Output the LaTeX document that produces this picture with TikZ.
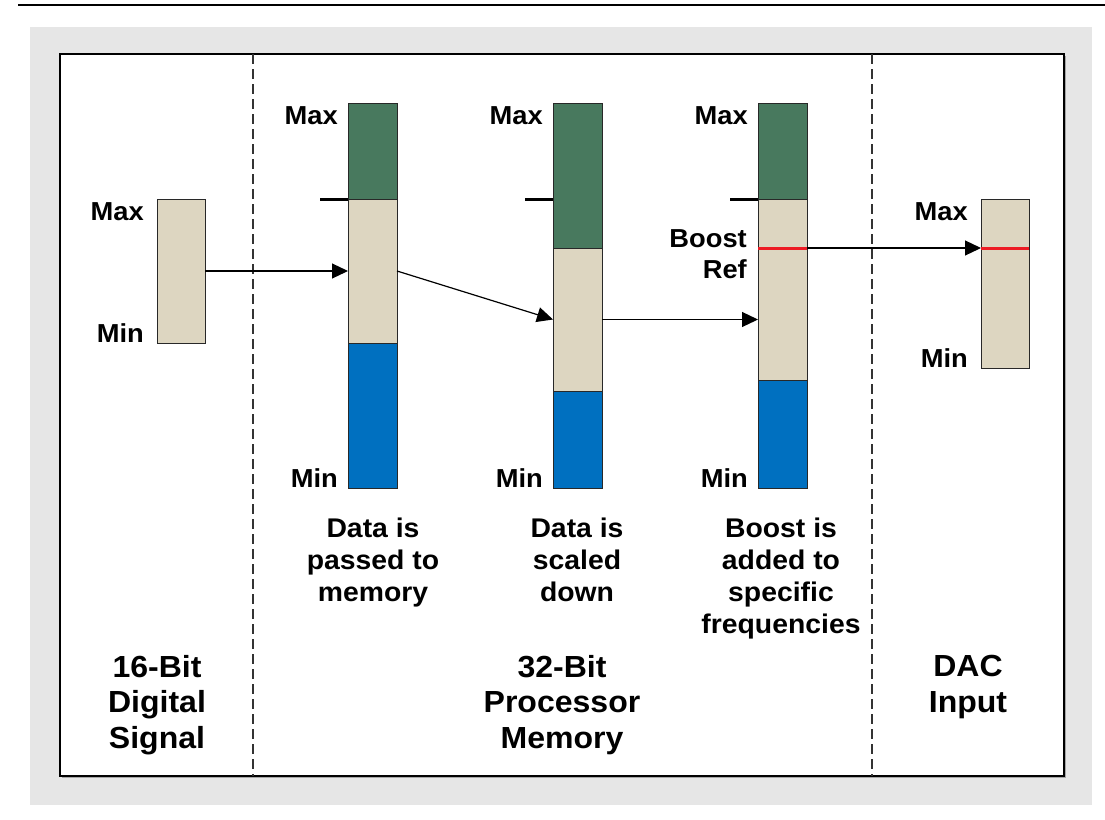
\documentclass[tikz,border=0pt]{standalone}
\usepackage{fontspec}
\setmainfont{Liberation Sans}[FakeStretch=1.05]
\usetikzlibrary{arrows.meta}
\definecolor{bggray}{RGB}{230,230,230}
\definecolor{bargreen}{RGB}{72,121,94}
\definecolor{barbeige}{RGB}{221,214,193}
\definecolor{barblue}{RGB}{0,112,192}
\definecolor{barred}{RGB}{237,28,36}
\definecolor{barline}{RGB}{40,40,40}
\tikzset{
  seg/.style={draw=barline, line width=1pt, minimum width=49pt, inner sep=0pt, outer sep=0pt, anchor=north west},
  gseg/.style={seg, fill=bargreen},
  bseg/.style={seg, fill=barbeige},
  useg/.style={seg, fill=barblue},
  lbl/.style={font=\fontsize{26}{30}\selectfont\bfseries, inner sep=0pt, anchor=base east},
  midtxt/.style={font=\fontsize{27}{32}\selectfont\bfseries, inner sep=0pt, anchor=north, align=center},
  bigtxt/.style={font=\fontsize{30.5}{35.5}\selectfont\bfseries, inner sep=0pt, anchor=north, align=center},
  conn/.style={-{Triangle[length=16pt,width=15pt]}, line width=1.2pt, draw=black},
  tickmark/.style={line width=3pt, draw=black},
  redmark/.style={line width=3pt, draw=barred},
  divider/.style={line width=1.1pt, dash pattern=on 10pt off 5pt, draw=black!80}
}
\begin{document}
\begin{tikzpicture}[x=1pt,y=-1pt]
\useasboundingbox (0,0) rectangle (1105,819);
% top rule
\draw[line width=2.5pt, draw=black] (18,5) -- (1105,5);
% grey panel
\fill[bggray] (30,27) rectangle (1092,805);
% inner box with faint shadow
\fill[black!35] (61.5,55.5) rectangle (1065.5,777.5);
\draw[fill=white, draw=black, line width=1.2pt] (60,54) rectangle (1064,776);
% dividers
\draw[divider] (253,54) -- (253,776);
\draw[divider] (872,54) -- (872,776);

% bar 1 (16-bit)
\node[bseg, minimum height=144pt, minimum width=48pt] (b1) at (157,199) {};
% bar 2
\node[bseg, minimum height=144pt] (b2m) at (348,199) {};
\node[gseg, minimum height=96pt] (b2g) at (348,103) {};
\node[useg, minimum height=145pt] (b2b) at (348,343) {};
% bar 3
\node[bseg, minimum height=143pt] (b3m) at (553,248) {};
\node[gseg, minimum height=145pt] (b3g) at (553,103) {};
\node[useg, minimum height=97pt] (b3b) at (553,391) {};
% bar 4
\node[bseg, minimum height=181pt] (b4m) at (758,199) {};
\node[gseg, minimum height=96pt] (b4g) at (758,103) {};
\node[useg, minimum height=108pt] (b4b) at (758,380) {};
% bar 5 (DAC)
\node[bseg, minimum height=169pt, minimum width=48pt] (b5) at (981,199) {};

% ticks
\draw[tickmark] (b2m.north west) -- ++(-28,0);
\draw[tickmark] (553,199) -- ++(-28,0);
\draw[tickmark] (b4m.north west) -- ++(-28,0);

% connectors
\draw[conn] (b1.east) -- (b2m.west);
\draw[conn] (b2m.east) -- (b3m.west);
\draw[conn] (b3m.east) -- (b4m.west |- b3m.east);
\coordinate (r4w) at (b4m.west |- 0,248);
\coordinate (r4e) at (b4m.east |- 0,248);
\coordinate (r5w) at (b5.west |- 0,248);
\coordinate (r5e) at (b5.east |- 0,248);
\draw[conn] (r4e) -- (r5w);
% red boost reference lines
\draw[redmark] (r4w) -- (r4e);
\draw[redmark] (r5w) -- (r5e);

% Max / Min labels
\node[lbl] (max1) at ([xshift=-13pt,yshift=-21pt]b1.north west) {Max};
\node[lbl] (min1) at ([xshift=-13pt,yshift=1pt]b1.south west) {Min};
\node[lbl] (max2) at ([xshift=-10pt,yshift=-21pt]b2g.north west) {Max};
\node[lbl] (min2) at ([xshift=-10pt,yshift=1pt]b2b.south west) {Min};
\node[lbl] (max3) at ([xshift=-10pt,yshift=-21pt]b3g.north west) {Max};
\node[lbl] (min3) at ([xshift=-10pt,yshift=1pt]b3b.south west) {Min};
\node[lbl] (max4) at ([xshift=-10pt,yshift=-21pt]b4g.north west) {Max};
\node[lbl] (min4) at ([xshift=-10pt,yshift=1pt]b4b.south west) {Min};
\node[lbl] (max5) at ([xshift=-13pt,yshift=-21pt]b5.north west) {Max};
\node[lbl] (min5) at ([xshift=-13pt,yshift=1pt]b5.south west) {Min};
\node[font=\fontsize{26}{31}\selectfont\bfseries, inner sep=0pt, anchor=north east, align=right] (bref) at (747,229) {Boost\\Ref};

% step captions
\node[midtxt] (cap2) at (373,518) {Data is\\passed to\\memory};
\node[midtxt] (cap3) at (577,518) {Data is\\scaled\\down};
\node[midtxt] (cap4) at (781,518) {Boost is\\added to\\specific\\frequencies};

% section titles
\node[bigtxt] (sec1) at (157,655) {16-Bit\\Digital\\Signal};
\node[bigtxt] (sec2) at (562,655) {32-Bit\\Processor\\Memory};
\node[bigtxt] (sec3) at (968,655) {DAC\\Input};
\end{tikzpicture}
\end{document}
